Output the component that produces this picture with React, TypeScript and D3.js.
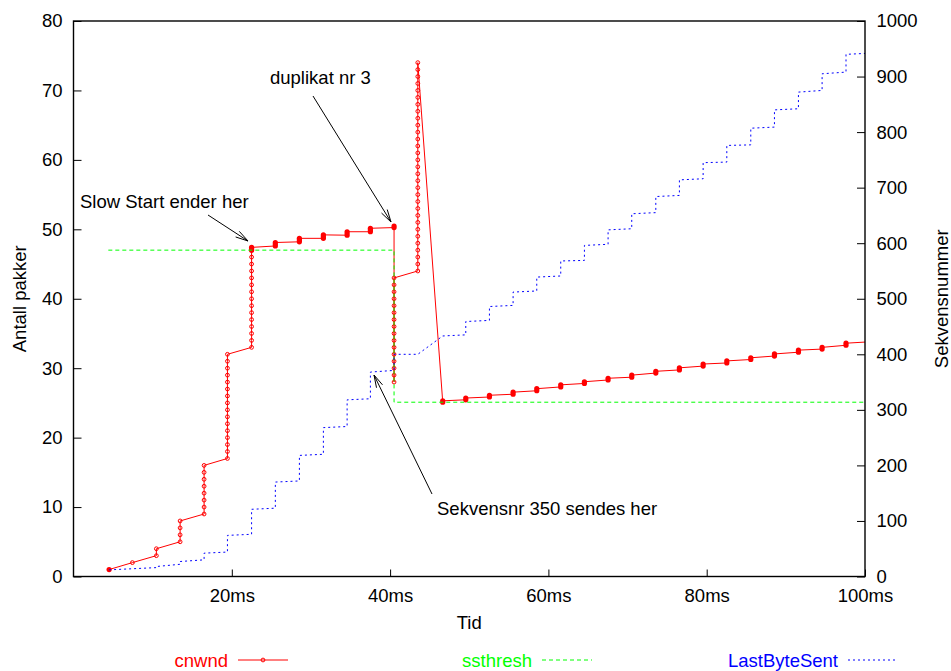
import React, {useEffect, useRef} from 'react';
import * as d3 from 'd3';

// tick values
const xTicks = [20, 40, 60, 80, 100];
const leftTicks = [0, 10, 20, 30, 40, 50, 60, 70, 80];
const rightTicks = [0, 100, 200, 300, 400, 500, 600, 700, 800, 900, 1000];

// cnwnd, slow start: one column of windows per RTT (ms)
const startTime = 4.5;
const startCwnd = 1;
const ssTime = [7.44, 10.47, 13.47, 16.5, 19.45, 22.5];
const ssCwnd = [
  [2],
  [3, 4],
  [5, 6, 7, 8],
  [9, 10, 11, 12, 13, 14, 15, 16],
  [17, 18, 19, 20, 21, 22, 23, 24, 25, 26, 27, 28, 29, 30, 31, 32],
  [33, 34, 35, 36, 37, 38, 39, 40, 41, 42, 43, 44, 45, 46, 47],
];

// cnwnd, congestion avoidance before the loss: low/high window seen in each RTT
const ca1Time = [22.5, 25.5, 28.54, 31.57, 34.57, 37.51, 40.5];
const ca1Low = [47.0, 47.6, 48.2, 48.7, 49.15, 49.65, 50.25];
const ca1High = [47.4, 48.1, 48.7, 49.2, 49.65, 50.15, 50.45];

// cnwnd, fast recovery (window inflated per duplicate ack)
const frTime = [40.5, 43.5];
const frCwnd = [
  [28, 29, 30, 31, 32, 33, 34, 35, 36, 37, 38, 39, 40, 41, 42, 43],
  [44, 45, 46, 47, 48, 49, 50, 51, 52, 53, 54, 55, 56, 57, 58, 59, 60, 61, 62, 63, 64, 65, 66, 67, 68, 69, 70, 71, 72, 73, 74],
];

// cnwnd, congestion avoidance after recovery
const ca2Time = [46.65, 49.56, 52.55, 55.54, 58.53, 61.56, 64.55, 67.54, 70.53, 73.57, 76.55, 79.55, 82.54, 85.57, 88.56, 91.59, 94.58, 97.6, 100.6];
const ca2Low = [25.1, 25.45, 25.85, 26.25, 26.75, 27.3, 27.8, 28.3, 28.7, 29.3, 29.75, 30.3, 30.75, 31.25, 31.75, 32.3, 32.75, 33.3, 33.8];
const ca2High = [25.3, 25.7, 26.1, 26.55, 27.05, 27.6, 28.05, 28.55, 29.0, 29.55, 30.05, 30.6, 31.05, 31.5, 32.05, 32.6, 33.0, 33.6, 34.1];

// ssthresh
const ssthreshTime = [4.4, 40.5, 40.5, 100];
const ssthreshVal = [47, 47, 25.1, 25.1];

// LastByteSent (right axis)
const lbsTime = [4.5, 10.5, 10.5, 13.47, 13.47, 16.5, 16.5, 19.45, 19.45, 22.5, 22.5, 25.5, 25.5, 28.54, 28.54, 31.57, 31.57, 34.57, 34.57, 37.51, 37.51, 40.5, 40.5, 43.5, 46.65, 49.56, 49.56, 52.55, 52.55, 55.54, 55.54, 58.53, 58.53, 61.56, 61.56, 64.55, 64.55, 67.54, 67.54, 70.53, 70.53, 73.57, 73.57, 76.55, 76.55, 79.55, 79.55, 82.54, 82.54, 85.57, 85.57, 88.56, 88.56, 91.59, 91.59, 94.58, 94.58, 97.6, 97.6, 100.6];
const lbsVal = [12, 16, 18, 22, 27, 30, 42, 44, 74, 76, 121, 123, 170, 172, 218, 220, 268, 270, 318, 320, 368, 371, 400, 400, 433, 435, 459, 461, 486, 488, 512, 514, 539, 541, 568, 569, 596, 598, 624, 626, 653, 655, 684, 686, 714, 716, 745, 746, 776, 777, 807, 809, 840, 842, 872, 875, 905, 908, 940, 942];

const FONT = '"Liberation Sans", Arial, Helvetica, sans-serif';

export default function App() {
  const svgRef = useRef(null);

  useEffect(() => {
    const svg = d3.select(svgRef.current);
    svg.selectAll('*').remove();

    const width = 951, height = 671;
    const x0 = 73.5, x1 = 865, yb = 576.5, yt = 21;

    const x = d3.scaleLinear().domain([0, 100]).range([x0, x1]);
    const yL = d3.scaleLinear().domain([0, 80]).range([yb, yt]);
    const yR = d3.scaleLinear().domain([0, 1000]).range([yb, yt]);

    svg.attr('viewBox', [0, 0, width, height])
      .attr('font-family', FONT)
      .attr('font-size', 18.5);

    svg.append('defs').append('clipPath').attr('id', 'plotclip')
      .append('rect').attr('x', x0).attr('y', yt).attr('width', x1 - x0).attr('height', yb - yt);

    // cnwnd points in drawing order
    const pts: [number, number][] = [];
    pts.push([startTime, startCwnd]);
    ssTime.forEach((t, i) => ssCwnd[i].forEach(v => pts.push([t, v])));
    ca1Time.forEach((t, i) => { pts.push([t, ca1Low[i]]); pts.push([t, ca1High[i]]); });
    frTime.forEach((t, i) => frCwnd[i].forEach(v => pts.push([t, v])));
    ca2Time.forEach((t, i) => { pts.push([t, ca2Low[i]]); pts.push([t, ca2High[i]]); });

    const plot = svg.append('g').attr('clip-path', 'url(#plotclip)');

    const lineL = d3.line<[number, number]>().x(d => x(d[0])).y(d => yL(d[1]));

    plot.append('path')
      .attr('d', lineL(pts))
      .attr('fill', 'none')
      .attr('stroke', '#ff0000')
      .attr('stroke-width', 1);

    // open circles for whole-number windows
    const cols: [number, number][] = [];
    ssTime.forEach((t, i) => ssCwnd[i].forEach(v => cols.push([t, v])));
    frTime.forEach((t, i) => frCwnd[i].forEach(v => cols.push([t, v])));
    plot.selectAll('circle.mk').data(cols).join('circle')
      .attr('class', 'mk')
      .attr('cx', d => x(d[0]))
      .attr('cy', d => yL(d[1]))
      .attr('r', 1.9)
      .attr('fill', 'none')
      .attr('stroke', '#ff0000')
      .attr('stroke-width', 1);

    // piled-up markers during congestion avoidance
    const clusters: [number, number, number][] = [[startTime, startCwnd, startCwnd]];
    ca1Time.forEach((t, i) => clusters.push([t, ca1Low[i], ca1High[i]]));
    ca2Time.forEach((t, i) => clusters.push([t, ca2Low[i], ca2High[i]]));
    const rr = 2.6;
    plot.selectAll('rect.cl').data(clusters).join('rect')
      .attr('class', 'cl')
      .attr('x', d => x(d[0]) - rr)
      .attr('width', rr * 2)
      .attr('y', d => yL(d[2]) - rr)
      .attr('height', d => yL(d[1]) - yL(d[2]) + rr * 2)
      .attr('rx', rr)
      .attr('fill', '#ff0000');

    // ssthresh
    const sst = ssthreshTime.map((t, i) => [t, ssthreshVal[i]] as [number, number]);
    plot.append('path')
      .attr('d', lineL(sst))
      .attr('fill', 'none')
      .attr('stroke', '#00ff00')
      .attr('stroke-width', 1)
      .attr('stroke-dasharray', '4,3');

    // LastByteSent
    const lineR = d3.line<[number, number]>().x(d => x(d[0])).y(d => yR(d[1]));
    const lbs = lbsTime.map((t, i) => [t, lbsVal[i]] as [number, number]);
    plot.append('path')
      .attr('d', lineR(lbs))
      .attr('fill', 'none')
      .attr('stroke', '#0000ff')
      .attr('stroke-width', 1)
      .attr('stroke-dasharray', '2,3');

    // axes
    const styleAxis = g => {
      g.select('.domain').remove();
      g.attr('font-family', FONT).attr('font-size', 18.5);
      g.selectAll('line').attr('stroke', '#000').attr('stroke-width', 1);
      g.selectAll('text').attr('fill', '#000');
    };

    svg.append('g').attr('transform', `translate(${x0},0)`)
      .call(d3.axisLeft(yL).tickValues(leftTicks).tickFormat(d3.format('d')).tickSize(-8).tickSizeOuter(0).tickPadding(11))
      .call(styleAxis);

    svg.append('g').attr('transform', `translate(${x1},0)`)
      .call(d3.axisRight(yR).tickValues(rightTicks).tickFormat(d3.format('d')).tickSize(-8).tickSizeOuter(0).tickPadding(11.5))
      .call(styleAxis);

    svg.append('g').attr('transform', `translate(0,${yb})`)
      .call(d3.axisBottom(x).tickValues(xTicks).tickFormat(d => d + 'ms').tickSize(-7).tickSizeOuter(0).tickPadding(12))
      .call(styleAxis);

    svg.append('rect')
      .attr('x', x0).attr('y', yt).attr('width', x1 - x0).attr('height', yb - yt)
      .attr('fill', 'none').attr('stroke', '#000').attr('stroke-width', 1.4);

    // axis titles
    svg.append('text').attr('x', (x0 + x1) / 2).attr('y', 622)
      .attr('text-anchor', 'middle').attr('dominant-baseline', 'central').text('Tid');
    svg.append('text').attr('transform', `translate(19,${(yt + yb) / 2}) rotate(-90)`)
      .attr('text-anchor', 'middle').attr('dominant-baseline', 'central').text('Antall pakker');
    svg.append('text').attr('transform', `translate(941,${(yt + yb) / 2}) rotate(-90)`)
      .attr('text-anchor', 'middle').attr('dominant-baseline', 'central').text('Sekvensnummer');

    // annotations
    const arrow = (xa, ya, xb, yb2) => {
      svg.append('line').attr('x1', xa).attr('y1', ya).attr('x2', xb).attr('y2', yb2)
        .attr('stroke', '#000').attr('stroke-width', 1);
      const ang = Math.atan2(yb2 - ya, xb - xa);
      const len = 13, spread = 0.26;
      [-spread, spread].forEach(s => {
        svg.append('line')
          .attr('x1', xb).attr('y1', yb2)
          .attr('x2', xb - len * Math.cos(ang + s)).attr('y2', yb2 - len * Math.sin(ang + s))
          .attr('stroke', '#000').attr('stroke-width', 1);
      });
    };
    const note = (tx, ty, s) => svg.append('text').attr('x', tx).attr('y', ty)
      .attr('dominant-baseline', 'central').attr('fill', '#000').text(s);

    note(270, 77, 'duplikat nr 3');
    arrow(313, 96, 391, 222);
    note(80, 201, 'Slow Start ender her');
    arrow(208, 215, 248, 241);
    note(437, 508, 'Sekvensnr 350 sendes her');
    arrow(432, 494, 374, 375);

    // legend
    const legend = [
      {name: 'cnwnd', color: '#ff0000', dash: null, end: 228, marker: true},
      {name: 'ssthresh', color: '#00ff00', dash: '4,3', end: 532, marker: false},
      {name: 'LastByteSent', color: '#0000ff', dash: '2,3', end: 838, marker: false},
    ];
    const lg = svg.append('g');
    legend.forEach(it => {
      lg.append('text').attr('x', it.end).attr('y', 660)
        .attr('text-anchor', 'end').attr('dominant-baseline', 'central')
        .attr('fill', it.color).text(it.name);
      lg.append('line').attr('x1', it.end + 10).attr('x2', it.end + 60)
        .attr('y1', 660).attr('y2', 660)
        .attr('stroke', it.color).attr('stroke-width', 1)
        .attr('stroke-dasharray', it.dash);
      if (it.marker) {
        lg.append('circle').attr('cx', it.end + 35).attr('cy', 660).attr('r', 1.9)
          .attr('fill', 'none').attr('stroke', it.color).attr('stroke-width', 1);
      }
    });
  }, []);

  return (
    <div style={{position: 'absolute', left: 0, top: 0, background: '#fff'}}>
      <svg ref={svgRef} width={951} height={671}></svg>
    </div>
  );
}
